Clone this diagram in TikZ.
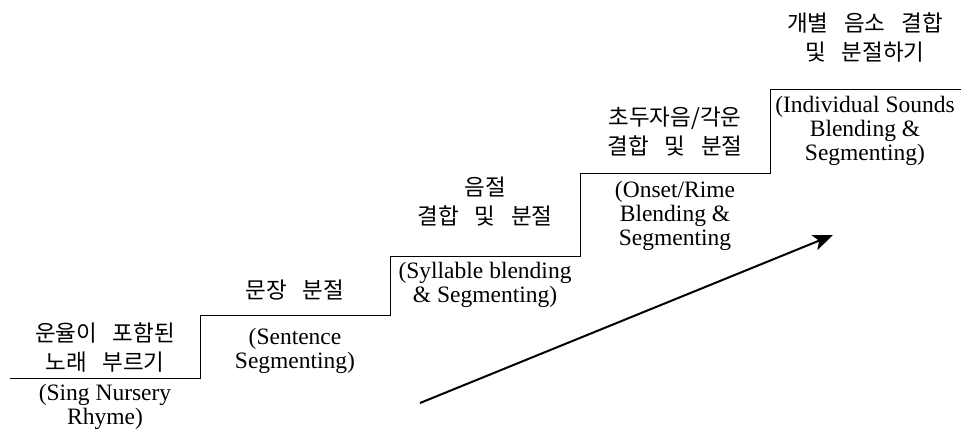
\documentclass[tikz,border=0pt]{standalone}
\usepackage{fontspec}
\setmainfont{Liberation Serif}
\newfontfamily\kr{Noto Sans CJK KR}
\newcommand{\ks}{\hspace{0.7em}}
\usetikzlibrary{arrows.meta}
\begin{document}
\begin{tikzpicture}[x=1pt,y=-1pt,
  en/.style={align=center, font=\fontsize{23.5}{24}\selectfont, inner sep=0pt},
  ko/.style={align=center, font=\kr\fontsize{22.5}{29}\selectfont, inner sep=0pt},
  stair/.style={line width=1pt},
  arr/.style={line width=2pt, -{Stealth[length=20pt,width=16pt,inset=5pt]}}]
\useasboundingbox (0,0) rectangle (961,434);
% staircase
\coordinate (s0) at (10,378);
\coordinate (s1) at (200,378);
\coordinate (s2) at (200,315);
\coordinate (s3) at (390,315);
\coordinate (s4) at (390,256);
\coordinate (s5) at (580,256);
\coordinate (s6) at (580,173);
\coordinate (s7) at (770,173);
\coordinate (s8) at (770,89);
\coordinate (s9) at (961,89);
\draw[stair] (s0) -- (s1) -- (s2) -- (s3) -- (s4) -- (s5) -- (s6) -- (s7) -- (s8) -- (s9);
% arrow
\coordinate (a0) at (420,403);
\coordinate (a1) at (833,235);
\draw[arr] (a0) -- (a1);
% texts
\node[ko] (k1) at (105,347) {운율이\ks 포함된\\노래\ks 부르기};
\node[en] (e1) at (105,407) {(Sing Nursery\\Rhyme)};
\node[ko] (k2) at (295,290) {문장\ks 분절};
\node[en] (e2) at (295,351) {(Sentence\\Segmenting)};
\node[ko] (k3) at (485,202) {음절\\결합\ks 및\ks 분절};
\node[en] (e3) at (485,285) {(Syllable blending\\\& Segmenting)};
\node[ko] (k4) at (675,132) {초두자음/각운\\결합\ks 및\ks 분절};
\node[en] (e4) at (675,216) {(Onset/Rime\\Blending \&\\Segmenting};
\node[ko] (k5) at (865,37) {개별\ks 음소\ks 결합\\및\ks 분절하기};
\node[en] (e5) at (865,131) {(Individual Sounds\\Blending \&\\Segmenting)};
\end{tikzpicture}
\end{document}
